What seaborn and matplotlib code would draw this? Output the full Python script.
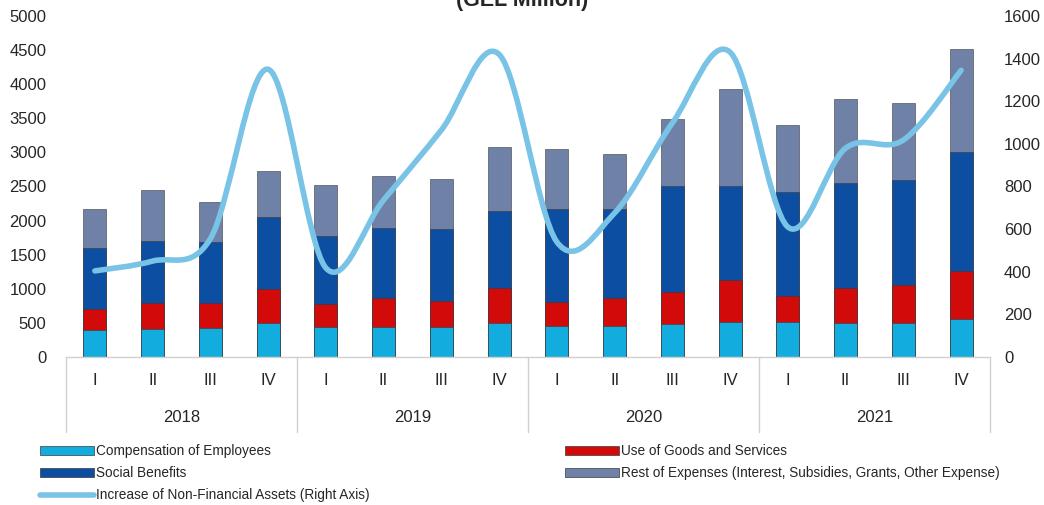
import numpy as np
import pandas as pd
import matplotlib
matplotlib.use('Agg')
import matplotlib.pyplot as plt
import seaborn as sns
from matplotlib.path import Path
from matplotlib.patches import PathPatch, Patch
from matplotlib.lines import Line2D
import matplotlib.transforms as mtransforms

# Data (GEL million)
years = ['2018', '2019', '2020', '2021']
quarters = ['I', 'II', 'III', 'IV']
compensation = [396, 410, 425, 498, 440, 440, 440, 498, 455, 455, 484, 513, 513, 498, 498, 557]
goods_services = [307, 380, 365, 499, 337, 425, 381, 513, 351, 410, 469, 616, 381, 513, 557, 704]
social_benefits = [895, 910, 896, 1055, 997, 1026, 1055, 1129, 1364, 1305, 1554, 1378, 1525, 1540, 1540, 1744]
rest_expenses = [572, 748, 587, 675, 747, 762, 733, 939, 879, 806, 982, 1422, 982, 1231, 1129, 1510]
nonfin_assets = [404, 450, 555, 1350, 418, 737, 1065, 1420, 540, 676, 1098, 1430, 610, 980, 1018, 1345]

labels = [f'{y}-{q}' for y in years for q in quarters]
df = pd.DataFrame({'period': labels,
                   'comp': compensation,
                   'goods': goods_services,
                   'social': social_benefits,
                   'rest': rest_expenses,
                   'assets': nonfin_assets})
df['l1'] = df['comp']
df['l2'] = df['l1'] + df['goods']
df['l3'] = df['l2'] + df['social']
df['l4'] = df['l3'] + df['rest']

c_comp = '#12ACDF'
c_goods = '#D20A0A'
c_social = '#0B4EA2'
c_rest = '#7081A8'
c_line = '#79C3E6'

sns.set_style('white')
plt.rcParams['font.family'] = ['Liberation Sans', 'DejaVu Sans']

fig = plt.figure(figsize=(10.44, 5.05), dpi=100)
ax = fig.add_axes([66 / 1044, 148 / 505, 924 / 1044, 341 / 505])

# stacked bars drawn as overlapping cumulative layers
for col, color in [('l4', c_rest), ('l3', c_social), ('l2', c_goods), ('l1', c_comp)]:
    sns.barplot(data=df, x='period', y=col, color=color, width=0.4,
                edgecolor='#3a3a3a', linewidth=0.4, saturation=1, ax=ax)

ax.set_xlim(-0.5, 15.5)
ax.set_ylim(0, 5000)
ax.set_yticks(range(0, 5001, 500))
ax.set_xlabel('')
ax.set_ylabel('')
ax.set_xticks([])
for s in ax.spines.values():
    s.set_visible(False)
ax.tick_params(axis='y', length=0, labelsize=12, pad=14)

# right axis with smoothed line
ax2 = ax.twinx()
ax2.set_ylim(0, 1600)
ax2.set_yticks(range(0, 1601, 200))
ax2.tick_params(axis='y', length=0, labelsize=12, pad=10)
for s in ax2.spines.values():
    s.set_visible(False)

xs = np.arange(len(nonfin_assets), dtype=float)
ys = np.array(nonfin_assets, dtype=float)
# Catmull-Rom to Bezier, like a smoothed spreadsheet line
verts = [(xs[0], ys[0])]
codes = [Path.MOVETO]
n = len(xs)
for i in range(n - 1):
    p0 = np.array([xs[max(i - 1, 0)], ys[max(i - 1, 0)]])
    p1 = np.array([xs[i], ys[i]])
    p2 = np.array([xs[i + 1], ys[i + 1]])
    p3 = np.array([xs[min(i + 2, n - 1)], ys[min(i + 2, n - 1)]])
    c1 = p1 + (p2 - p0) / 6
    c2 = p2 - (p3 - p1) / 6
    verts += [tuple(c1), tuple(c2), tuple(p2)]
    codes += [Path.CURVE4] * 3
ax2.add_patch(PathPatch(Path(verts, codes), facecolor='none', edgecolor=c_line,
                        linewidth=4, capstyle='round', joinstyle='round', zorder=5))

# category axis: quarters, years and separators
trans = mtransforms.blended_transform_factory(ax.transData, ax.transAxes)
ax.plot([-0.5, 15.5], [0, 0], transform=trans, color='#d0d0d0', lw=1, clip_on=False)
for b in [-0.5, 3.5, 7.5, 11.5, 15.5]:
    ax.plot([b, b], [0, -0.22], transform=trans, color='#d0d0d0', lw=1, clip_on=False)
for i, lab in enumerate(labels):
    ax.text(i, -0.068, lab.split('-')[1], transform=trans, ha='center', va='center', fontsize=12)
for j, y in enumerate(years):
    ax.text(4 * j + 1.5, -0.176, y, transform=trans, ha='center', va='center', fontsize=12)

fig.text(0.5, 0.988, '(GEL Million)', ha='center', va='baseline',
         fontsize=15.5, fontweight='bold')

# legend
h_comp = Patch(facecolor=c_comp, edgecolor='#3a3a3a', linewidth=0.5)
h_goods = Patch(facecolor=c_goods, edgecolor='#3a3a3a', linewidth=0.5)
h_social = Patch(facecolor=c_social, edgecolor='#3a3a3a', linewidth=0.5)
h_rest = Patch(facecolor=c_rest, edgecolor='#3a3a3a', linewidth=0.5)
h_line = Line2D([], [], color=c_line, lw=4)
leg_kw = dict(frameon=False, fontsize=9.8, handlelength=4.0, handleheight=0.6,
              handletextpad=0.15, labelspacing=0.6, borderaxespad=0, borderpad=0)
leg1 = fig.legend([h_comp, h_social, h_line],
                  ['Compensation of Employees', 'Social Benefits',
                   'Increase of Non-Financial Assets (Right Axis)'],
                  loc='upper left', bbox_to_anchor=(40 / 1044, 1 - 444 / 505), **leg_kw)
leg2 = fig.legend([h_goods, h_rest],
                  ['Use of Goods and Services',
                   'Rest of Expenses (Interest, Subsidies, Grants, Other Expense)'],
                  loc='upper left', bbox_to_anchor=(565 / 1044, 1 - 444 / 505), **leg_kw)

fig.savefig('out.png', dpi=100)
